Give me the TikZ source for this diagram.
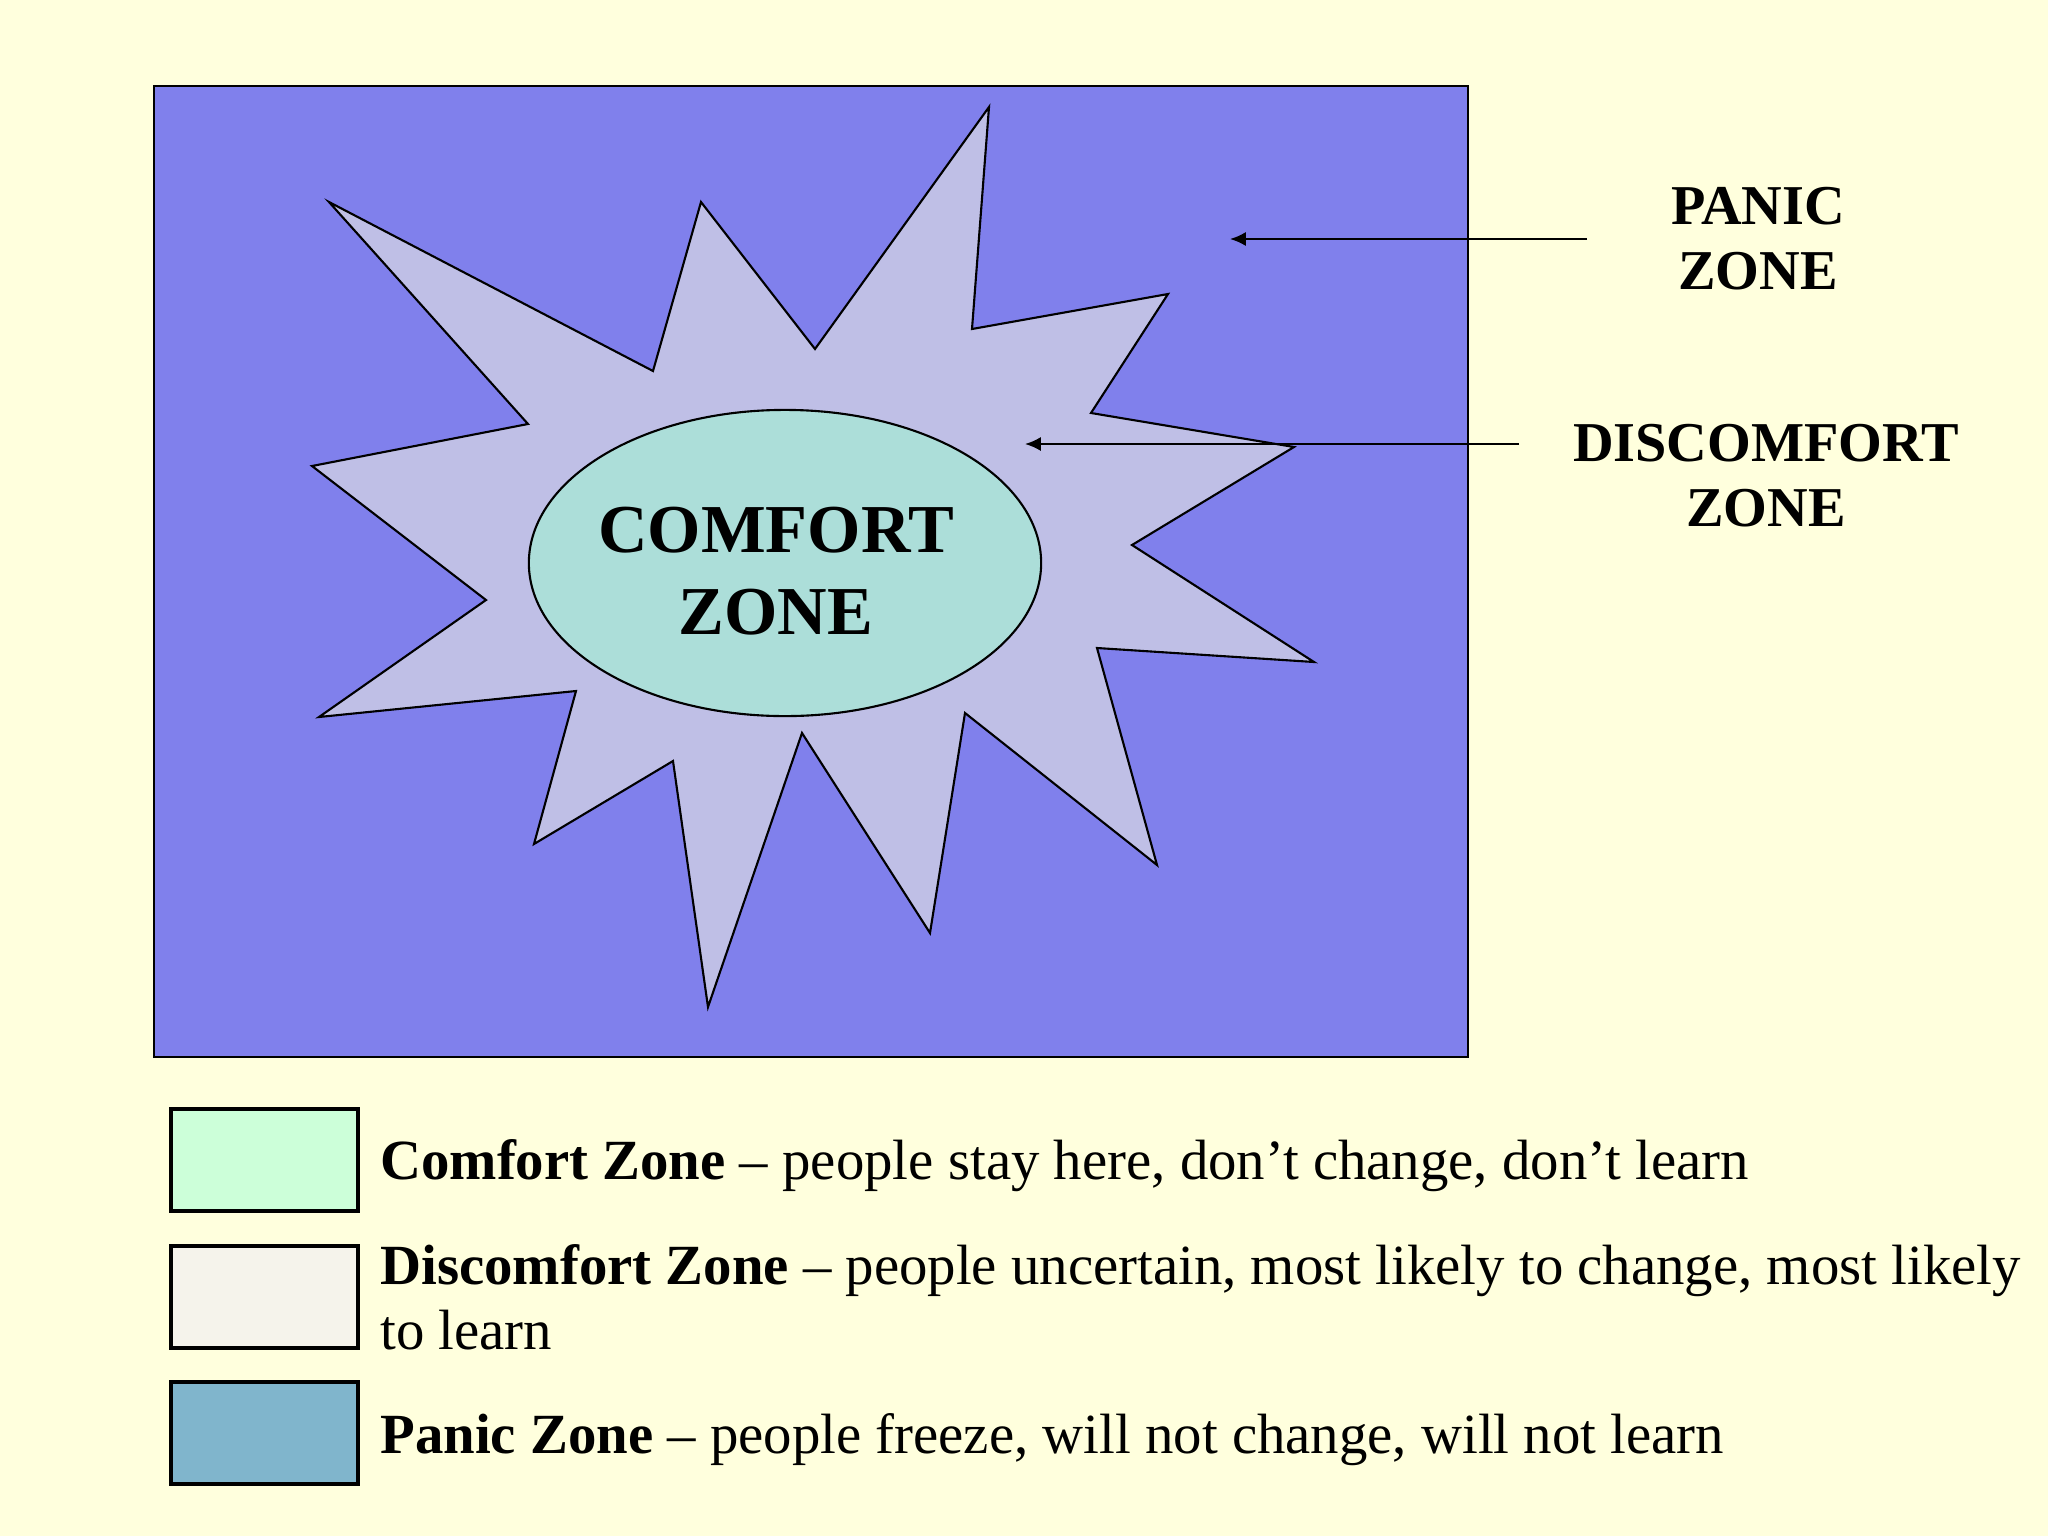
\documentclass[tikz,border=0pt]{standalone}
\usepackage{fontspec}
\setmainfont{Liberation Serif}
\usetikzlibrary{arrows.meta,positioning}
\definecolor{paper}{HTML}{FFFFDD}
\definecolor{panicblue}{HTML}{8080EC}
\definecolor{starlilac}{HTML}{BFBFE6}
\definecolor{comfortteal}{HTML}{ACDED9}
\definecolor{keygreen}{HTML}{CCFFD9}
\definecolor{keycream}{HTML}{F5F3EB}
\definecolor{keyblue}{HTML}{80B5CC}

\begin{document}
\begin{tikzpicture}[x=0.01cm, y=-0.01cm,
    zone/.style={draw=black, line width=0.6pt},
    zonelabel/.style={font=\fontsize{16}{18.5}\selectfont\bfseries, align=center, inner sep=0pt},
    keybox/.style={draw=black, line width=0.9pt, minimum width=1.87cm, minimum height=1.02cm, inner sep=0pt},
    keytext/.style={font=\fontsize{16.15}{18.5}\selectfont, align=left, inner sep=0pt},
    pointer/.style={-{Latex[length=4.5pt,width=4pt]}, line width=0.6pt}]

\fill[paper] (0,0) rectangle (2048,1536);

% panic zone
\draw[zone, fill=panicblue] (154,86) rectangle (1468,1057);

% discomfort zone
\draw[zone, fill=starlilac] (329,202) -- (653,371) -- (701,202) -- (815,349)
    -- (989,107) -- (972,329) -- (1168,294) -- (1091,413) -- (1294,447)
    -- (1132,545) -- (1314,662) -- (1097,648) -- (1157,865) -- (965,713)
    -- (930,933) -- (802,733) -- (708,1007) -- (673,761) -- (534,844)
    -- (576,691) -- (319,717) -- (486,600) -- (312,466) -- (528,424) -- cycle;

% comfort zone
\draw[zone, fill=comfortteal] (785,563) ellipse [x radius=2.56cm, y radius=1.53cm];
\node[font=\fontsize{19.5}{23.5}\selectfont\bfseries, align=center, inner sep=0pt] (comfort) at (776,571) {COMFORT\\ZONE};

\node[zonelabel] (panic) at (1758,239) {PANIC\\ZONE};
\node[zonelabel] (discomfort) at (1766,476) {DISCOMFORT\\ZONE};

\coordinate (panictail) at (1587,239);
\coordinate (panictip) at (1230,239);
\coordinate (discomforttail) at (1519,444);
\coordinate (discomforttip) at (1025,444);
\draw[pointer] (panictail) -- (panictip);
\draw[pointer] (discomforttail) -- (discomforttip);

% key
\node[keybox, fill=keygreen] (comfortkey) at (264.5,1160) {};
\node[keybox, fill=keycream] (discomfortkey) at (264.5,1297) {};
\node[keybox, fill=keyblue] (panickey) at (264.5,1433) {};

\node[keytext, right=0.2cm of comfortkey, yshift=-0.06cm] (comforttext)
    {\textbf{Comfort Zone} – people stay here, don’t change, don’t learn};
\node[keytext, right=0.2cm of discomfortkey] (discomforttext)
    {\textbf{Discomfort Zone} – people uncertain, most likely to change, most likely\\to learn};
\node[keytext, right=0.2cm of panickey, yshift=-0.07cm] (panictext)
    {\textbf{Panic Zone} – people freeze, will not change, will not learn};

\end{tikzpicture}
\end{document}
